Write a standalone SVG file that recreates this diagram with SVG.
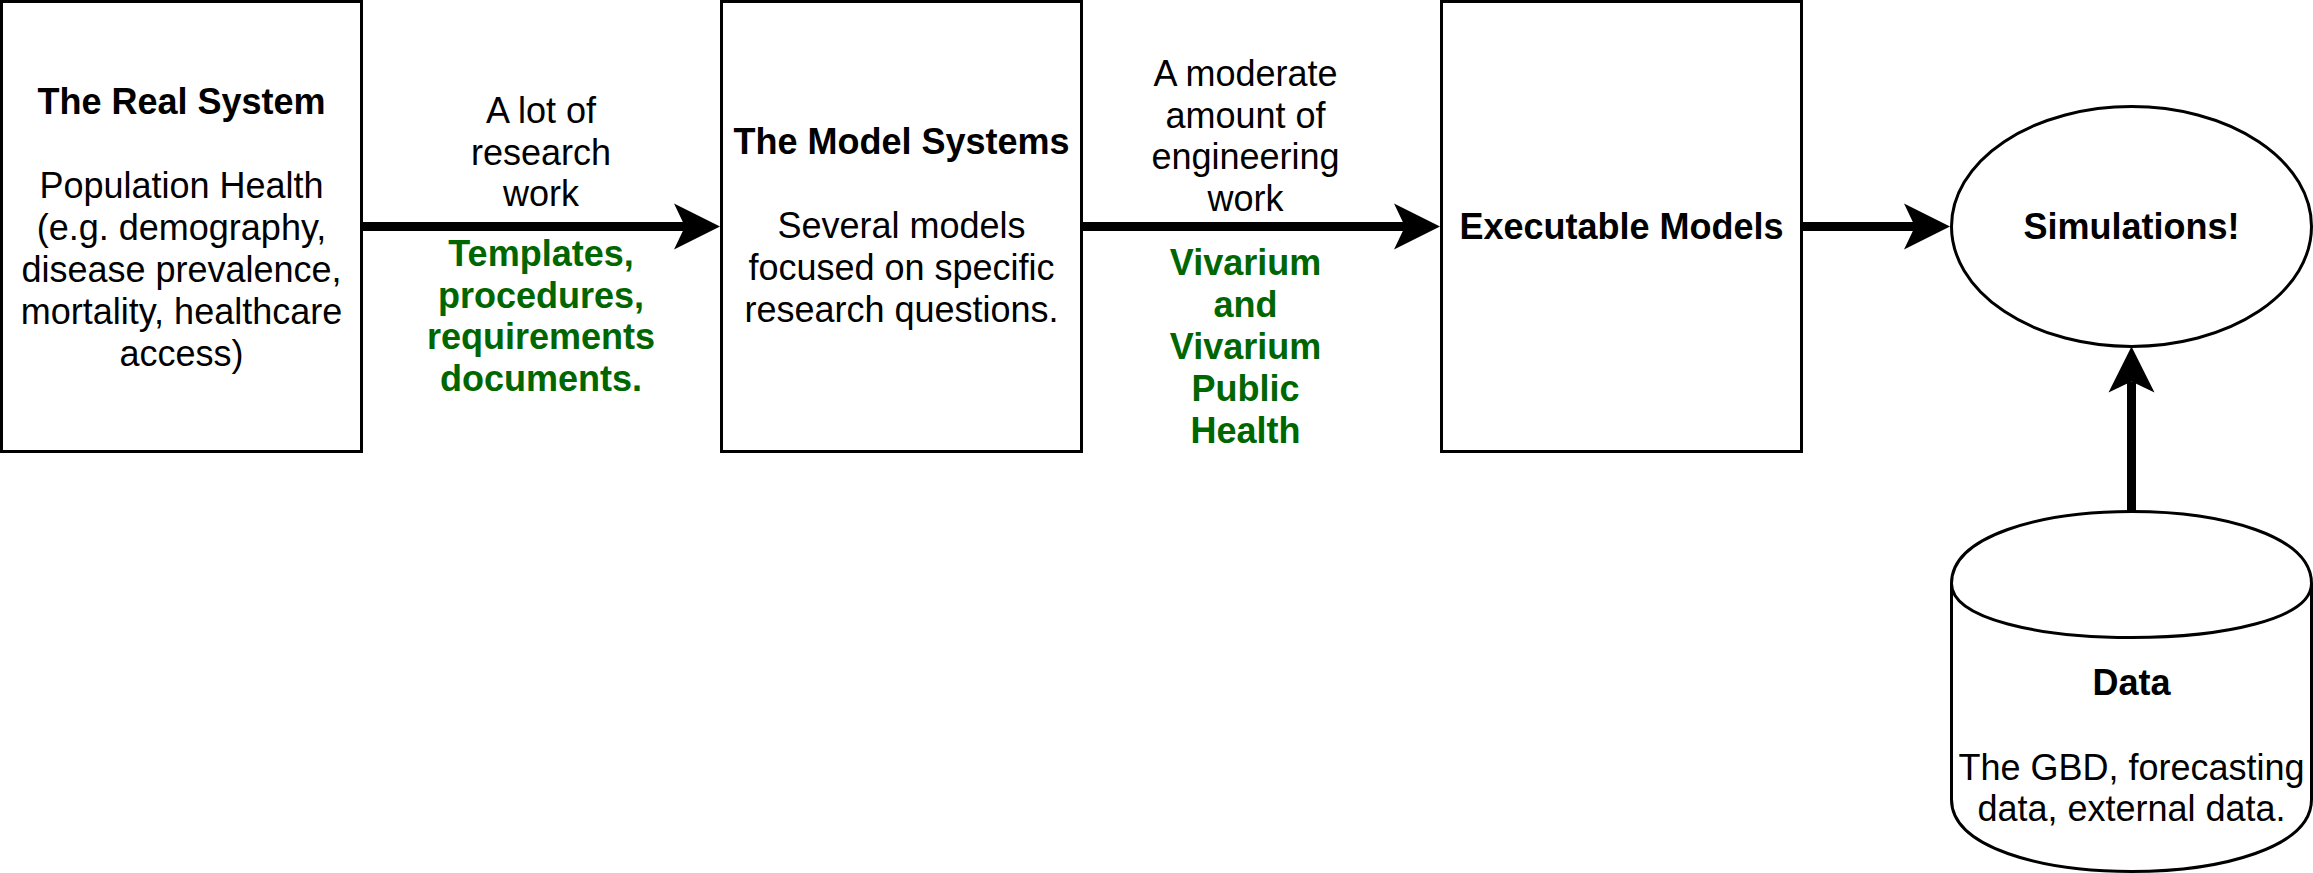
<svg xmlns="http://www.w3.org/2000/svg" width="2313" height="873" viewBox="0 0 2313 873">
  <style>
    .shape { fill: #ffffff; stroke: #000000; stroke-width: 3; }
    .edge { fill: none; stroke: #000000; stroke-width: 9; marker-end: url(#arrow); }
    text { font-family: "Liberation Sans", Arial, Helvetica, sans-serif; font-size: 36px; text-anchor: middle; fill: #000000; }
    .b { font-weight: bold; }
    .g { font-weight: bold; fill: #006600; }
  </style>
  <defs>
    <!-- classic notched arrowhead, 46 long, 46 wide -->
    <marker id="arrow" markerUnits="userSpaceOnUse" viewBox="0 0 46 46" markerWidth="46" markerHeight="46" refX="11" refY="23" orient="auto" overflow="visible">
      <path d="M0,0 L46,23 L0,46 L11,23 Z" fill="#000000"/>
    </marker>
  </defs>

  <!-- connectors -->
  <g id="connectors">
    <path class="edge" d="M361.5,226.5 L685,226.5"/>
    <path class="edge" d="M1081.5,226.5 L1405,226.5"/>
    <path class="edge" d="M1801.5,226.5 L1915,226.5"/>
    <path class="edge" d="M2131.5,511.5 L2131.5,381.5"/>
  </g>

  <!-- edge labels -->
  <g id="label-research">
    <text x="541" y="123">A lot of</text>
    <text x="541" y="164.5">research</text>
    <text x="541" y="206">work</text>
    <text class="g" x="541" y="266">Templates,</text>
    <text class="g" x="541" y="307.5">procedures,</text>
    <text class="g" x="541" y="349">requirements</text>
    <text class="g" x="541" y="391">documents.</text>
  </g>
  <g id="label-engineering">
    <text x="1245.5" y="86">A moderate</text>
    <text x="1245.5" y="127.5">amount of</text>
    <text x="1245.5" y="169">engineering</text>
    <text x="1245.5" y="211">work</text>
    <text class="g" x="1245.5" y="275">Vivarium</text>
    <text class="g" x="1245.5" y="317">and</text>
    <text class="g" x="1245.5" y="359">Vivarium</text>
    <text class="g" x="1245.5" y="401">Public</text>
    <text class="g" x="1245.5" y="442.5">Health</text>
  </g>

  <!-- nodes -->
  <g id="real-system">
    <rect class="shape" x="1.5" y="1.5" width="360" height="450"/>
    <text class="b" x="181.5" y="114">The Real System</text>
    <text x="181.5" y="198">Population Health</text>
    <text x="181.5" y="240">(e.g. demography,</text>
    <text x="181.5" y="282">disease prevalence,</text>
    <text x="181.5" y="324">mortality, healthcare</text>
    <text x="181.5" y="366">access)</text>
  </g>

  <g id="model-systems">
    <rect class="shape" x="721.5" y="1.5" width="360" height="450"/>
    <text class="b" x="901.5" y="154">The Model Systems</text>
    <text x="901.5" y="238">Several models</text>
    <text x="901.5" y="280">focused on specific</text>
    <text x="901.5" y="322">research questions.</text>
  </g>

  <g id="executable-models">
    <rect class="shape" x="1441.5" y="1.5" width="360" height="450"/>
    <text class="b" x="1621.5" y="239">Executable Models</text>
  </g>

  <g id="simulations">
    <ellipse class="shape" cx="2131.5" cy="226.5" rx="180" ry="120"/>
    <text class="b" x="2131.5" y="239">Simulations!</text>
  </g>

  <g id="data">
    <path class="shape" d="M1951.5,583.5 C1951.5,487.5 2311.5,487.5 2311.5,583.5 L2311.5,799.5 C2311.5,895.5 1951.5,895.5 1951.5,799.5 Z"/>
    <path class="shape" fill="none" d="M1951.5,583.5 C1951.5,655.5 2311.5,655.5 2311.5,583.5" style="fill:none"/>
    <text class="b" x="2131.5" y="695">Data</text>
    <text x="2131.5" y="779.5">The GBD, forecasting</text>
    <text x="2131.5" y="821">data, external data.</text>
  </g>
</svg>
